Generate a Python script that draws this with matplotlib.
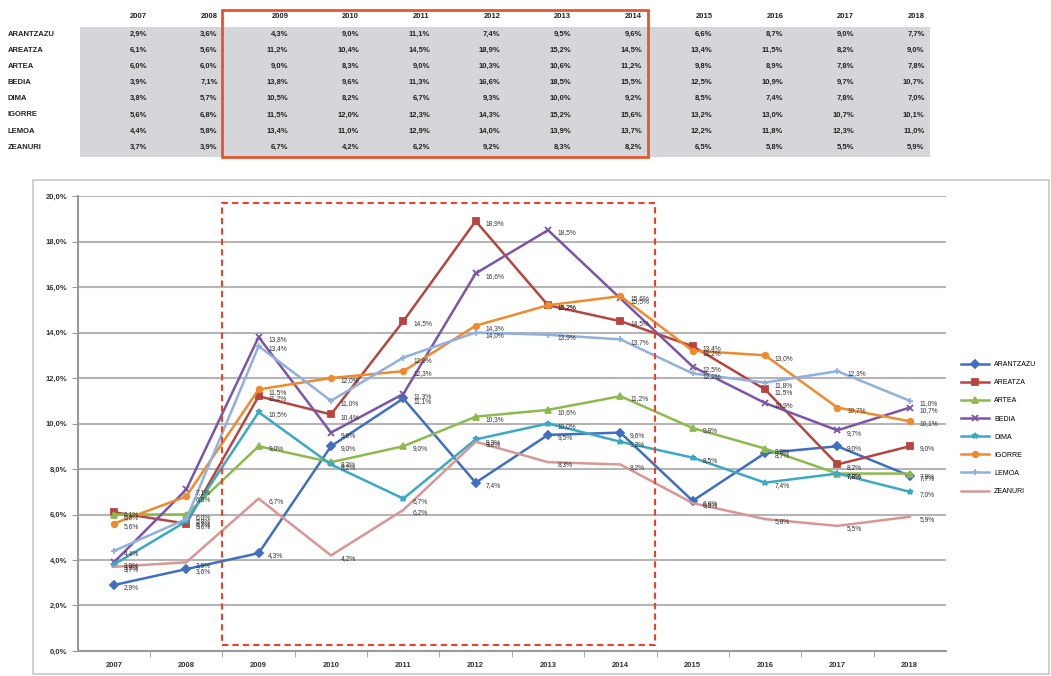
import matplotlib
matplotlib.use("Agg")
import matplotlib.pyplot as plt
from matplotlib.patches import Rectangle

# Datos
years = ['2007', '2008', '2009', '2010', '2011', '2012', '2013', '2014', '2015', '2016', '2017', '2018']
municipios = ['ARANTZAZU', 'AREATZA', 'ARTEA', 'BEDIA', 'DIMA', 'IGORRE', 'LEMOA', 'ZEANURI']

arantzazu = [2.9, 3.6, 4.3, 9.0, 11.1, 7.4, 9.5, 9.6, 6.6, 8.7, 9.0, 7.7]
areatza = [6.1, 5.6, 11.2, 10.4, 14.5, 18.9, 15.2, 14.5, 13.4, 11.5, 8.2, 9.0]
artea = [6.0, 6.0, 9.0, 8.3, 9.0, 10.3, 10.6, 11.2, 9.8, 8.9, 7.8, 7.8]
bedia = [3.9, 7.1, 13.8, 9.6, 11.3, 16.6, 18.5, 15.5, 12.5, 10.9, 9.7, 10.7]
dima = [3.8, 5.7, 10.5, 8.2, 6.7, 9.3, 10.0, 9.2, 8.5, 7.4, 7.8, 7.0]
igorre = [5.6, 6.8, 11.5, 12.0, 12.3, 14.3, 15.2, 15.6, 13.2, 13.0, 10.7, 10.1]
lemoa = [4.4, 5.8, 13.4, 11.0, 12.9, 14.0, 13.9, 13.7, 12.2, 11.8, 12.3, 11.0]
zeanuri = [3.7, 3.9, 6.7, 4.2, 6.2, 9.2, 8.3, 8.2, 6.5, 5.8, 5.5, 5.9]

series = [arantzazu, areatza, artea, bedia, dima, igorre, lemoa, zeanuri]
colores = ['#3f6fc2', '#b8443f', '#8dba4c', '#7a55a8', '#3aa9c4', '#f08a2f', '#8fb0e0', '#d99694']
marcadores = ['D', 's', '^', 'x', '*', 'o', '+', '']


def pct(v):
    return f"{v:.1f}%".replace('.', ',')


plt.rcParams['font.family'] = ['Liberation Sans', 'DejaVu Sans']
fig = plt.figure(figsize=(10.51, 6.76), dpi=100)

# capa de fondo en pixeles para la tabla y el marco
bg = fig.add_axes([0, 0, 1, 1])
bg.set_xlim(0, 1051)
bg.set_ylim(676, 0)
bg.axis('off')

# Tabla arriba
bg.add_patch(Rectangle((80, 27), 850, 130, facecolor='#d4d6d9', edgecolor='none'))
col_x = [147 + i * 70.7 for i in range(len(years))]
fila_y = [34 + i * 16.2 for i in range(len(municipios))]
for x, yr in zip(col_x, years):
    bg.text(x, 17, yr, ha='right', va='center', fontsize=5.5, fontweight='bold', color='#222222')
for y, nombre, vals in zip(fila_y, municipios, series):
    bg.text(8, y, nombre, ha='left', va='center', fontsize=5.5, fontweight='bold', color='#222222')
    for x, v in zip(col_x, vals):
        bg.text(x, y, pct(v), ha='right', va='center', fontsize=5.5, fontweight='bold', color='#222222')
bg.add_patch(Rectangle((222, 10), 426, 147, facecolor='none', edgecolor='#e8552f', lw=2))

# marco del grafico
bg.add_patch(Rectangle((33, 180), 1016, 494, facecolor='white', edgecolor='#c8c8c8', lw=1.2))

# Grafico
ax = fig.add_axes([0.074, 0.037, 0.826, 0.673])
xs = list(range(len(years)))
for vals, nombre, c, m in zip(series, municipios, colores, marcadores):
    ax.plot(xs, vals, color=c, lw=1.8, marker=m if m else None, markersize=4,
            markeredgewidth=1.3, label=nombre, zorder=3)
    for x, v in zip(xs, vals):
        ax.annotate(pct(v), (x, v), xytext=(7, -2), textcoords='offset points',
                    fontsize=4.8, color='#333333', va='center', zorder=4)

ax.set_xlim(-0.5, len(years) - 0.5)
ax.set_ylim(0, 20)
ax.set_yticks(range(0, 21, 2))
ax.set_yticklabels([pct(v) for v in range(0, 21, 2)], fontsize=5.5, fontweight='bold', color='#333333')
ax.set_xticks(xs)
ax.set_xticklabels(years, fontsize=5.5, fontweight='bold', color='#333333')
ax.set_xticks([x + 0.5 for x in xs[:-1]], minor=True)
ax.tick_params(axis='x', which='major', length=0, pad=8)
ax.tick_params(axis='x', which='minor', length=4, color='#999999')
ax.tick_params(axis='y', length=4, color='#999999')
ax.grid(axis='y', color='#b5b5b5', lw=1.5, zorder=0)
for s in ['top', 'right']:
    ax.spines[s].set_visible(False)
ax.spines['left'].set_color('#999999')
ax.spines['bottom'].set_color('#999999')
ax.spines['left'].set_linewidth(1.5)
ax.spines['bottom'].set_linewidth(1.5)

# recuadro rojo discontinuo
ax.add_patch(Rectangle((1.5, 0.26), 5.98, 19.44, facecolor='none', edgecolor='#f0402a',
                       lw=1.5, ls=(0, (3, 2)), zorder=5, clip_on=False))

ax.legend(loc='center left', bbox_to_anchor=(1.01, 0.49), frameon=False, fontsize=5,
          handlelength=4, labelspacing=1.6)

fig.savefig('out.png', dpi=100)
